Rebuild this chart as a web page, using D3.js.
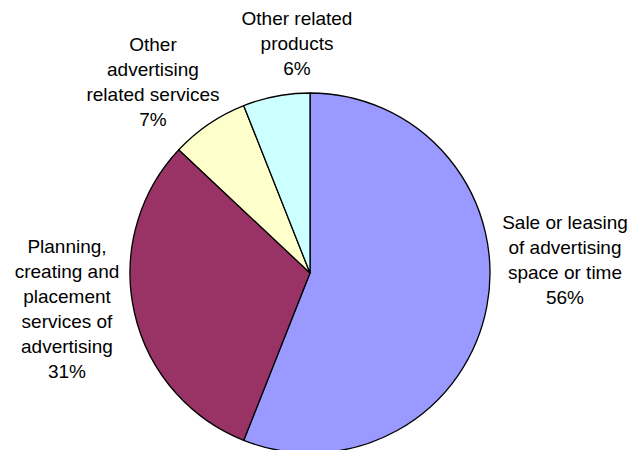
<!DOCTYPE html>
<html>
<head>
<meta charset="utf-8">
<script src="https://cdn.jsdelivr.net/npm/d3@7"></script>
<style>
  html, body { margin: 0; padding: 0; background: #ffffff; }
  svg { display: block; }
  text { font-family: "Liberation Sans", Arial, sans-serif; font-size: 19px; fill: #000; }
</style>
</head>
<body>
<svg id="chart" width="631" height="450"></svg>
<script>
// Data
const categories = [
  "Sale or leasing of advertising space or time",
  "Planning, creating and placement services of advertising",
  "Other advertising related services",
  "Other related products"
];
const values = [56, 31, 7, 6];
const labelLines = [
  ["Sale or leasing", "of advertising", "space or time", "56%"],
  ["Planning,", "creating and", "placement", "services of", "advertising", "31%"],
  ["Other", "advertising", "related services", "7%"],
  ["Other related", "products", "6%"]
];
const colors = ["#9999FF", "#993366", "#FFFFCC", "#CCFFFF"];

// Layout
const cx = 310, cy = 273, radius = 180;
const labelPos = [
  { x: 565, y: 229 },
  { x: 67,  y: 253 },
  { x: 153, y: 51 },
  { x: 297, y: 25 }
];
const lineH = 25;

const svg = d3.select("#chart");
const g = svg.append("g").attr("transform", `translate(${cx},${cy})`);

const pie = d3.pie().sort(null).value(d => d)
  .startAngle(0).endAngle(2 * Math.PI);
const arc = d3.arc().innerRadius(0).outerRadius(radius);
const color = d3.scaleOrdinal().domain(d3.range(values.length)).range(colors);

g.selectAll("path.slice")
  .data(pie(values))
  .join("path")
  .attr("class", "slice")
  .attr("d", arc)
  .attr("fill", (d, i) => color(i))
  .attr("stroke", "#000")
  .attr("stroke-width", 1.3)
  .attr("stroke-linejoin", "round");

const labels = svg.selectAll("text.lbl")
  .data(labelLines)
  .join("text")
  .attr("class", "lbl")
  .attr("text-anchor", "middle")
  .attr("x", (d, i) => labelPos[i].x)
  .attr("y", (d, i) => labelPos[i].y);

labels.each(function(lines, i) {
  d3.select(this).selectAll("tspan")
    .data(lines)
    .join("tspan")
    .attr("x", labelPos[i].x)
    .attr("y", (l, j) => labelPos[i].y + j * lineH)
    .text(l => l);
});
</script>
</body>
</html>
